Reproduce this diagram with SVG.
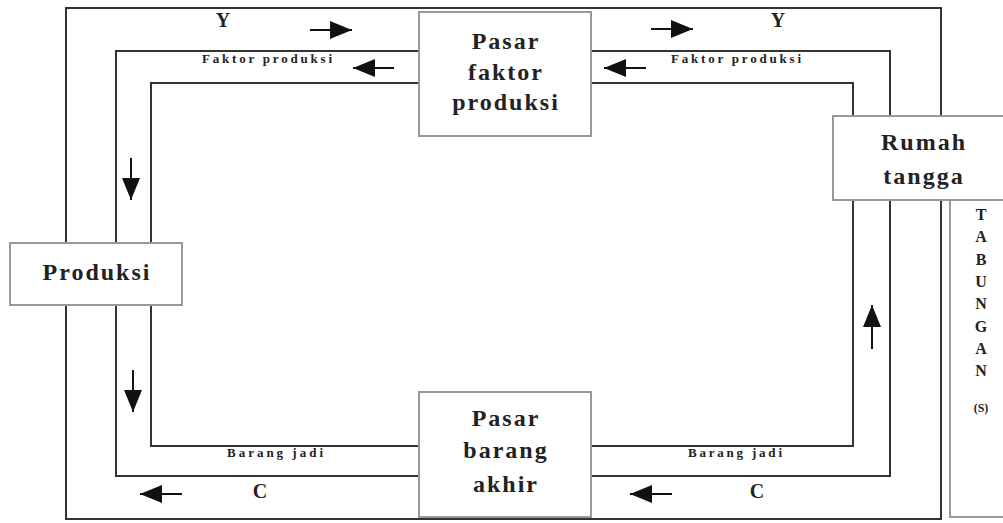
<svg xmlns="http://www.w3.org/2000/svg" width="1003" height="523" viewBox="0 0 1003 523">
<style>
.loop{fill:none;stroke:#333;stroke-width:2}
.box{fill:#fff;stroke:#999;stroke-width:2}
.t{font-family:"Liberation Serif",serif;font-weight:bold;fill:#222;text-anchor:middle}
.n{font-size:24px;letter-spacing:2px}
.s{font-size:13px}
.l{font-size:20px}
.ar{stroke:#111;stroke-width:2;marker-end:url(#ah)}
</style>
<defs>
<marker id="ah" markerUnits="userSpaceOnUse" markerWidth="22" markerHeight="18" refX="22" refY="9" orient="auto">
<path d="M0,0 L22,9 L0,18 z" fill="#111"/>
</marker>
</defs>
<rect width="1003" height="523" fill="#fff"/>
<g id="connectors">
<rect class="loop" x="66" y="8" width="875" height="511"/>
<rect class="loop" x="116" y="51" width="774" height="425"/>
<rect class="loop" x="151" y="83" width="702" height="363"/>
<line class="ar" x1="310" y1="30" x2="352" y2="30"/>
<line class="ar" x1="394" y1="68" x2="353" y2="68"/>
<line class="ar" x1="651" y1="29" x2="693" y2="29"/>
<line class="ar" x1="646" y1="68" x2="604" y2="68"/>
<line class="ar" x1="131" y1="158" x2="131" y2="200"/>
<line class="ar" x1="133" y1="370" x2="133" y2="412"/>
<line class="ar" x1="182" y1="494" x2="140" y2="494"/>
<line class="ar" x1="672" y1="494" x2="630" y2="494"/>
<line class="ar" x1="872" y1="349" x2="872" y2="305"/>
<text class="t l" x="223" y="27">Y</text>
<text class="t l" x="778" y="27">Y</text>
<text class="t s" x="267" y="63" textLength="130" lengthAdjust="spacing">Faktor produksi</text>
<text class="t s" x="736" y="63" textLength="130" lengthAdjust="spacing">Faktor produksi</text>
<text class="t s" x="275" y="457" textLength="96" lengthAdjust="spacing">Barang jadi</text>
<text class="t s" x="735" y="457" textLength="94" lengthAdjust="spacing">Barang jadi</text>
<text class="t l" x="260" y="498">C</text>
<text class="t l" x="757" y="498">C</text>
</g>
<g id="pasar-faktor">
<rect class="box" x="419" y="12" width="172" height="124"/>
<text class="t n" x="506" y="49">Pasar</text>
<text class="t n" x="506" y="80">faktor</text>
<text class="t n" x="506" y="110">produksi</text>
</g>
<g id="rumah-tangga">
<rect class="box" x="833" y="116" width="180" height="84"/>
<text class="t n" x="924" y="150">Rumah</text>
<text class="t n" x="924" y="184">tangga</text>
</g>
<g id="produksi">
<rect class="box" x="10" y="243" width="172" height="62"/>
<text class="t n" x="97" y="280">Produksi</text>
</g>
<g id="pasar-barang">
<rect class="box" x="419" y="392" width="172" height="125"/>
<text class="t n" x="506" y="426">Pasar</text>
<text class="t n" x="506" y="458">barang</text>
<text class="t n" x="506" y="492">akhir</text>
</g>
<g id="tabungan">
<rect class="box" x="950" y="200" width="70" height="317"/>
<g class="t" font-size="16">
<text x="981" y="220">T</text>
<text x="981" y="242">A</text>
<text x="981" y="265">B</text>
<text x="981" y="287">U</text>
<text x="981" y="309">N</text>
<text x="981" y="332">G</text>
<text x="981" y="354">A</text>
<text x="981" y="376">N</text>
<text x="981" y="412" font-size="12">(S)</text>
</g>
</g>
</svg>
